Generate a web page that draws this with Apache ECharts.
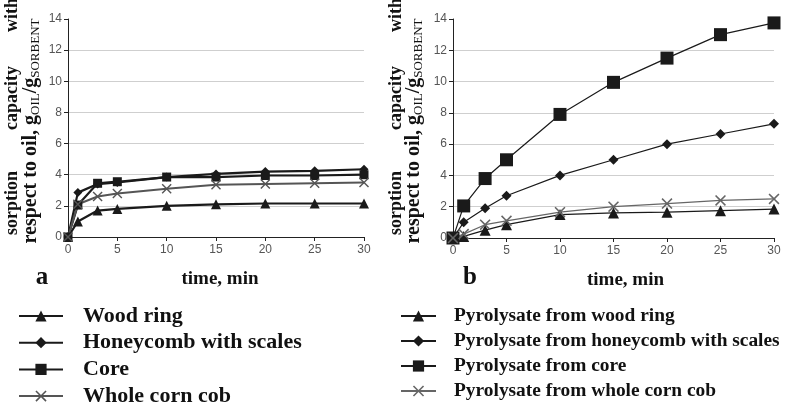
<!DOCTYPE html>
<html lang="en" style="height: 100%">
<head>
  <meta charset="utf-8">
</head>
<body style="height: 100%; margin: 0; background: #fff">
  <div id="container" style="width: 788px; height: 408px"></div>

  <script type="text/javascript" src="https://cdn.jsdelivr.net/npm/echarts@6/dist/echarts.min.js"></script>

  <script type="text/javascript">
    // sampling times, min
    var times = [0, 1, 3, 5, 10, 15, 20, 25, 30];

    // (a) raw corn cob fractions
    var namesA = ['Wood ring', 'Honeycomb with scales', 'Core', 'Whole corn cob'];
    var woodRing = [0, 1.0, 1.7, 1.8, 2.0, 2.1, 2.15, 2.15, 2.15];
    var honeycomb = [0, 2.85, 3.4, 3.5, 3.85, 4.05, 4.2, 4.25, 4.35];
    var core = [0, 2.05, 3.45, 3.55, 3.85, 3.85, 3.95, 3.95, 4.0];
    var wholeCob = [0, 2.1, 2.6, 2.8, 3.1, 3.35, 3.4, 3.45, 3.5];

    // (b) pyrolysates
    var namesB = ['Pyrolysate from wood ring', 'Pyrolysate from honeycomb with scales',
                  'Pyrolysate from core', 'Pyrolysate from whole corn cob'];
    var pyrWoodRing = [0, 0.1, 0.5, 0.85, 1.5, 1.6, 1.65, 1.75, 1.85];
    var pyrHoneycomb = [0, 1.0, 1.9, 2.7, 4.0, 5.0, 6.0, 6.65, 7.3];
    var pyrCore = [0, 2.05, 3.8, 5.0, 7.9, 9.95, 11.5, 13.0, 13.75];
    var pyrWholeCob = [0, 0.25, 0.85, 1.1, 1.65, 2.0, 2.2, 2.4, 2.5];

    var crossPath = 'path://M0,1L1,0L5,4L9,0L10,1L6,5L10,9L9,10L5,6L1,10L0,9L4,5Z';
    var serif = 'Liberation Serif';

    function pairs(vals) {
      return times.map(function (t, i) { return [t, vals[i]]; });
    }

    function mkSeries(name, vals, idx, symbol, size, color, width) {
      return {
        name: name,
        type: 'line',
        xAxisIndex: idx,
        yAxisIndex: idx,
        data: pairs(vals),
        symbol: symbol,
        symbolSize: size,
        showSymbol: true,
        animation: false,
        lineStyle: { color: color, width: width },
        itemStyle: { color: color }
      };
    }

    function xAx(idx, shift) {
      return {
        type: 'value', gridIndex: idx, min: 0, max: 30, interval: 5,
        name: 'time, min', nameLocation: 'middle', nameGap: 33,
        nameTextStyle: { fontFamily: serif, fontWeight: 'bold', fontSize: 19, color: '#111',
                         padding: [0, 0, 0, shift] },
        axisLine: { lineStyle: { color: '#222', width: 1 } },
        axisTick: { show: true, length: 4, lineStyle: { color: '#222' } },
        axisLabel: { color: '#555', fontFamily: 'Liberation Sans', fontSize: 12, margin: 7 },
        splitLine: { show: false }
      };
    }

    function yAx(idx) {
      return {
        type: 'value', gridIndex: idx, min: 0, max: 14, interval: 2,
        axisLine: { show: true, lineStyle: { color: '#222', width: 1 } },
        axisTick: { show: true, length: 4, lineStyle: { color: '#222' } },
        axisLabel: { color: '#555', fontFamily: 'Liberation Sans', fontSize: 12, margin: 6 },
        splitLine: { show: true, showMaxLine: false, lineStyle: { color: '#cfcfcf', width: 1 } }
      };
    }

    function yName(cx1, cx2) {
      var base = { fontFamily: serif, fontWeight: 'bold', fontSize: 18, fill: '#111',
                   align: 'center', verticalAlign: 'middle' };
      function word(txt, y) {
        return { type: 'text', x: cx1, y: y, rotation: Math.PI / 2,
                 style: Object.assign({ text: txt }, base) };
      }
      return [
        word('sorption', 203),
        word('capacity', 98),
        word('with', 15),
        {
          type: 'text', x: cx2, y: 131, rotation: Math.PI / 2,
          style: Object.assign({}, base, {
            text: 'respect to oil, g{s|OIL}/g{s|SORBENT}',
            fontSize: 20,
            lineHeight: 22,
            rich: {
              s: { fontFamily: serif, fontSize: 13, fill: '#111', verticalAlign: 'bottom', lineHeight: 22 }
            }
          })
        }
      ];
    }

    var dom = document.getElementById('container');
    var myChart = echarts.init(dom, null, { renderer: 'canvas' });

    var legendText = { fontFamily: serif, fontWeight: 'bold', color: '#111' };

    var option = {
      backgroundColor: '#fff',
      animation: false,
      grid: [
        { left: 68, right: 424, top: 19, bottom: 171 },
        { left: 453, right: 14, top: 19, bottom: 170 }
      ],
      xAxis: [xAx(0, 8), xAx(1, 24)],
      yAxis: [yAx(0), yAx(1)],
      legend: [
        {
          data: namesA, orient: 'vertical', left: 18, top: 305, height: 140, padding: 0,
          itemWidth: 44, itemHeight: 14, itemGap: 4.7,
          textStyle: Object.assign({ fontSize: 22, lineHeight: 20, padding: [0, 0, 0, 15] }, legendText)
        },
        {
          data: namesB, orient: 'vertical', left: 400, top: 306, height: 140, padding: 0,
          itemWidth: 35, itemHeight: 14, itemGap: 5,
          textStyle: Object.assign({ fontSize: 19.4, lineHeight: 20, padding: [0, 0, 0, 13] }, legendText)
        }
      ],
      graphic: yName(12, 31).concat(yName(396, 414)).concat([
        { type: 'text', x: 42, y: 278, style: { text: 'a', fontFamily: serif, fontWeight: 'bold', fontSize: 25, fill: '#111', align: 'center', verticalAlign: 'middle' } },
        { type: 'text', x: 470, y: 278, style: { text: 'b', fontFamily: serif, fontWeight: 'bold', fontSize: 25, fill: '#111', align: 'center', verticalAlign: 'middle' } }
      ]),
      series: [
        mkSeries(namesA[0], woodRing, 0, 'triangle', 10, '#1a1a1a', 2.2),
        mkSeries(namesA[1], honeycomb, 0, 'diamond', 9, '#1a1a1a', 2.2),
        mkSeries(namesA[2], core, 0, 'rect', 9, '#1a1a1a', 2.2),
        mkSeries(namesA[3], wholeCob, 0, crossPath, 10, '#555', 2),
        mkSeries(namesB[0], pyrWoodRing, 1, 'triangle', 11, '#1a1a1a', 1.2),
        mkSeries(namesB[1], pyrHoneycomb, 1, 'diamond', 10, '#1a1a1a', 1.2),
        mkSeries(namesB[2], pyrCore, 1, 'rect', 13, '#1a1a1a', 1.2),
        mkSeries(namesB[3], pyrWholeCob, 1, crossPath, 11, '#666', 1.2)
      ]
    };

    myChart.setOption(option);
    window.addEventListener('resize', myChart.resize);
  </script>
</body>
</html>
